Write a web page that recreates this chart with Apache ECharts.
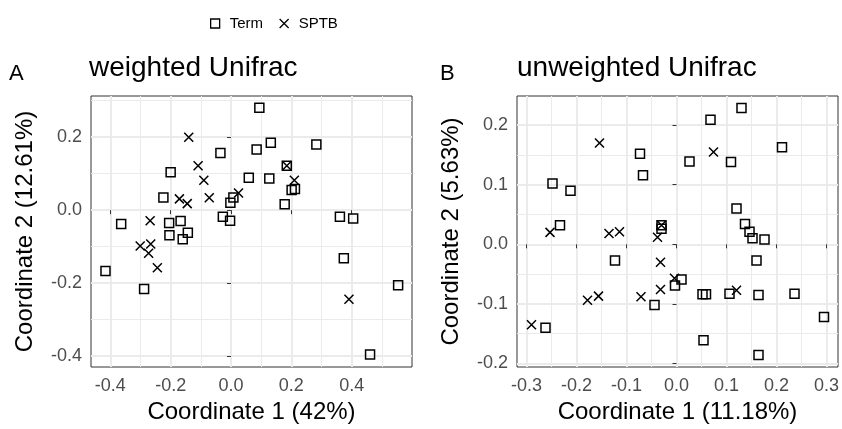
<!DOCTYPE html>
<html>
<head>
<meta charset="utf-8">
<script src="https://cdn.jsdelivr.net/npm/echarts@6/dist/echarts.min.js"></script>
<style>
  html, body { margin: 0; padding: 0; background: #fff; }
  #main { width: 842px; height: 429px; }
</style>
</head>
<body>
<div id="main"></div>
<script>
  // A: weighted Unifrac, points as [coord1, coord2]
  var termA = [[-0.035,0.157],[0.059,0.089],[-0.200,0.104],[-0.224,0.035],[0.008,0.035],[-0.002,0.020],
    [-0.364,-0.038],[-0.205,-0.035],[-0.167,-0.030],[-0.027,-0.018],[-0.003,-0.029],[0.094,0.281],
    [0.085,0.166],[0.132,0.185],[0.283,0.180],[0.185,0.122],[0.127,0.087],[0.201,0.055],[0.212,0.058],
    [0.178,0.016],[0.361,-0.018],[0.405,-0.023],[-0.204,-0.069],[-0.160,-0.080],[-0.143,-0.062],
    [-0.416,-0.167],[-0.288,-0.216],[0.374,-0.132],[0.554,-0.206],[0.461,-0.396]]
  var sptbA = [[-0.140,0.200],[-0.109,0.122],[-0.090,0.082],[-0.171,0.031],[-0.145,0.018],[-0.072,0.034],
    [0.025,0.047],[-0.268,-0.029],[0.185,0.122],[0.210,0.082],[-0.301,-0.098],[-0.266,-0.093],
    [-0.273,-0.118],[-0.244,-0.158],[0.391,-0.244]]

  // B: unweighted Unifrac
  var termB = [[-0.073,0.152],[-0.067,0.116],[-0.248,0.102],[-0.212,0.090],[-0.233,0.032],[0.130,0.229],
    [0.068,0.209],[0.211,0.163],[0.026,0.139],[0.109,0.138],[0.120,0.060],[0.137,0.034],[-0.030,0.032],
    [-0.030,0.026],[-0.123,-0.027],[-0.044,-0.102],[-0.003,-0.069],[-0.262,-0.140],[0.146,0.021],
    [0.152,0.010],[0.176,0.008],[0.160,-0.027],[0.010,-0.059],[0.052,-0.084],[0.059,-0.084],
    [0.106,-0.083],[0.164,-0.085],[0.236,-0.083],[0.295,-0.122],[0.054,-0.161],[0.164,-0.186]]
  var sptbB = [[-0.154,0.170],[0.074,0.155],[-0.253,0.020],[-0.135,0.018],[-0.114,0.021],[-0.030,0.032],
    [-0.038,0.012],[-0.032,-0.030],[-0.178,-0.094],[-0.156,-0.087],[-0.071,-0.088],[-0.032,-0.076],
    [-0.004,-0.057],[-0.290,-0.135],[0.120,-0.077]]

  // tick values (major) and minor grid values
  var ticksAx = [-0.4, -0.2, 0, 0.2, 0.4]
  var minorAx = [-0.3, -0.1, 0.1, 0.3, 0.5]
  var ticksAy = [-0.4, -0.2, 0, 0.2]
  var minorAy = [-0.3, -0.1, 0.1, 0.3]
  var ticksBx = [-0.3, -0.2, -0.1, 0, 0.1, 0.2, 0.3]
  var minorBx = [-0.25, -0.15, -0.05, 0.05, 0.15, 0.25]
  var ticksBy = [-0.2, -0.1, 0, 0.1, 0.2]
  var minorBy = [-0.15, -0.05, 0.05, 0.15]

  var FONT = '"Liberation Sans", Arial, sans-serif'
  var crossPath = 'path://M0,0L10,10M10,0L0,10'

  // x axis / y axis builders
  function xAxisOf(idx, name, min, max, ticks){
    return {
      type: 'value', gridIndex: idx, min: min, max: max,
      name: name, nameLocation: 'middle', nameGap: 33,
      nameTextStyle: { fontSize: 24, color: '#000', fontFamily: FONT },
      axisLine: { show: false },
      axisTick: { show: true, length: 4, customValues: ticks, lineStyle: { color: '#333', width: 1 } },
      axisLabel: { customValues: ticks, margin: 10, fontSize: 18, color: '#4d4d4d', fontFamily: FONT,
        formatter: function(v){ return v.toFixed(1) } },
      splitLine: { show: false }
    }
  }
  function yAxisOf(idx, name, min, max, ticks){
    return {
      type: 'value', gridIndex: idx, min: min, max: max,
      name: name, nameLocation: 'middle', nameGap: 54, nameRotate: 90,
      nameTextStyle: { fontSize: 24, color: '#000', fontFamily: FONT },
      axisLine: { show: false },
      axisTick: { show: true, length: 4, customValues: ticks, lineStyle: { color: '#333', width: 1 } },
      axisLabel: { customValues: ticks, margin: 9, fontSize: 18, color: '#4d4d4d', fontFamily: FONT,
        formatter: function(v){ return v.toFixed(1) } },
      splitLine: { show: false }
    }
  }

  // grid lines drawn as markLines so they sit on the data scale
  function gridLines(idx, mx, my, nx, ny){
    var data = []
    nx.forEach(function(v){ data.push({ xAxis: v, lineStyle: { width: 1 } }) })
    ny.forEach(function(v){ data.push({ yAxis: v, lineStyle: { width: 1 } }) })
    mx.forEach(function(v){ data.push({ xAxis: v, lineStyle: { width: 2 } }) })
    my.forEach(function(v){ data.push({ yAxis: v, lineStyle: { width: 2 } }) })
    return {
      type: 'scatter', xAxisIndex: idx, yAxisIndex: idx, data: [], silent: true, z: 0,
      markLine: {
        z: 0, silent: true, symbol: ['none', 'none'], label: { show: false }, animation: false,
        lineStyle: { color: '#ebebeb', type: 'solid' },
        data: data
      }
    }
  }

  function termSeries(idx, pts){
    return {
      name: 'Term', type: 'scatter', xAxisIndex: idx, yAxisIndex: idx, data: pts, z: 3,
      symbol: 'rect', symbolSize: 9,
      itemStyle: { color: 'transparent', borderColor: '#000', borderWidth: 1.5, opacity: 1 }
    }
  }
  function sptbSeries(idx, pts){
    return {
      name: 'SPTB', type: 'scatter', xAxisIndex: idx, yAxisIndex: idx, data: pts, z: 3,
      symbol: crossPath, symbolSize: 9,
      itemStyle: { color: 'transparent', borderColor: '#000', borderWidth: 1.5, opacity: 1 }
    }
  }

  var chart = echarts.init(document.getElementById('main'), null, { renderer: 'canvas' })

  var option = {
    animation: false,
    backgroundColor: '#fff',
    textStyle: { fontFamily: FONT },
    legend: {
      data: [
        { name: 'Term', icon: 'rect' },
        { name: 'SPTB', icon: crossPath }
      ],
      left: 205, top: 11,
      itemWidth: 9, itemHeight: 9, itemGap: 16,
      itemStyle: { color: 'transparent', borderColor: '#000', borderWidth: 1.3 },
      textStyle: { fontSize: 15, color: '#000', fontFamily: FONT, padding: [0, 0, 0, 5] }
    },
    graphic: [
      { type: 'text', left: 9, top: 63, style: { text: 'A', font: '22px ' + FONT, fill: '#000' } },
      { type: 'text', left: 89, top: 54, style: { text: 'weighted Unifrac', font: '28px ' + FONT, fill: '#000' } },
      { type: 'text', left: 440, top: 63, style: { text: 'B', font: '22px ' + FONT, fill: '#000' } },
      { type: 'text', left: 517, top: 54, style: { text: 'unweighted Unifrac', font: '28px ' + FONT, fill: '#000' } }
    ],
    grid: [
      { left: 91, top: 96, width: 321, height: 271, show: true, borderColor: '#333', borderWidth: 1,
        backgroundColor: '#fff', outerBoundsMode: 'none' },
      { left: 517, top: 96, width: 321, height: 271, show: true, borderColor: '#333', borderWidth: 1,
        backgroundColor: '#fff', outerBoundsMode: 'none' }
    ],
    xAxis: [
      xAxisOf(0, 'Coordinate 1 (42%)', -0.464, 0.600, ticksAx),
      xAxisOf(1, 'Coordinate 1 (11.18%)', -0.319, 0.323, ticksBx)
    ],
    yAxis: [
      yAxisOf(0, 'Coordinate 2 (12.61%)', -0.430, 0.313, ticksAy),
      yAxisOf(1, 'Coordinate 2 (5.63%)', -0.206, 0.249, ticksBy)
    ],
    series: [
      gridLines(0, ticksAx, ticksAy, minorAx, minorAy),
      gridLines(1, ticksBx, ticksBy, minorBx, minorBy),
      termSeries(0, termA),
      sptbSeries(0, sptbA),
      termSeries(1, termB),
      sptbSeries(1, sptbB)
    ]
  }

  chart.setOption(option)
</script>
</body>
</html>
